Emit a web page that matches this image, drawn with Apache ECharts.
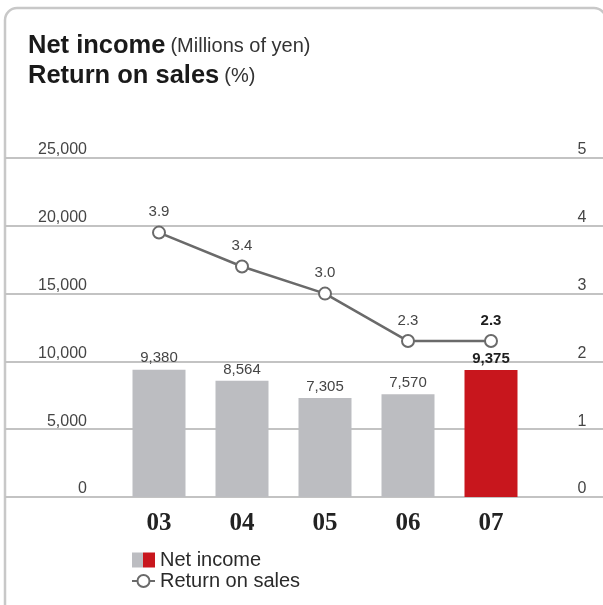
<!DOCTYPE html>
<html>
<head>
<meta charset="utf-8">
<script src="https://cdn.jsdelivr.net/npm/echarts@6/dist/echarts.min.js"></script>
<style>
  html, body { margin: 0; padding: 0; background: #fff; }
  #chart { width: 603px; height: 605px; }
</style>
</head>
<body>
<div id="chart"></div>
<script>
// Fiscal years and values
const years = ['03', '04', '05', '06', '07'];
const netIncome = [9380, 8564, 7305, 7570, 9375];      // millions of yen
const returnOnSales = [3.9, 3.4, 3.0, 2.3, 2.3];       // %
const incomeTicks = ['0', '5,000', '10,000', '15,000', '20,000', '25,000'];
const salesTicks = ['0', '1', '2', '3', '4', '5'];

const GRAY_BAR = '#bcbdc1';
const RED_BAR = '#c8161d';
const LINE_GRAY = '#6a6a6a';
const GRID_GRAY = '#c3c3c3';
const SANS = '"Liberation Sans", Arial, Helvetica, sans-serif';
const last = years.length - 1;

function withCommas(n) {
  return String(n).replace(/\B(?=(\d{3})+(?!\d))/g, ',');
}

const barData = netIncome.map((v, i) => i === last
  ? { value: v, itemStyle: { color: RED_BAR }, label: { fontWeight: 'bold', color: '#1e1e1e' } }
  : v);
const lineData = returnOnSales.map((v, i) => i === last
  ? { value: v, label: { fontWeight: 'bold', color: '#1e1e1e' } }
  : v);

const chart = echarts.init(document.getElementById('chart'), null, { renderer: 'canvas' });

chart.setOption({
  animation: false,
  textStyle: { fontFamily: SANS },
  title: {
    left: 28,
    top: 31,
    padding: 0,
    text: '{a|Net income} {b|(Millions of yen)}\n{a|Return on sales} {b|(%)}',
    textStyle: {
      rich: {
        a: { fontFamily: SANS, fontSize: 25.5, fontWeight: 'bold', color: '#1a1a1a', lineHeight: 30 },
        b: { fontFamily: SANS, fontSize: 20, fontWeight: 'normal', color: '#333', lineHeight: 30 }
      }
    }
  },
  graphic: [{
    type: 'rect',
    silent: true,
    shape: { x: 5, y: 8, width: 601, height: 640, r: 12 },
    style: { fill: 'none', stroke: '#c8c8c8', lineWidth: 2.5 }
  }],
  legend: {
    orient: 'vertical',
    left: 131,
    top: 550,
    padding: 0,
    itemWidth: 23,
    itemHeight: 15,
    itemGap: 1,
    itemTextGap: 5,
    selectedMode: false,
    textStyle: { fontFamily: SANS, fontSize: 20, color: '#2a2a2a' },
    data: [
      {
        name: 'Net income',
        icon: 'rect',
        itemStyle: {
          color: {
            type: 'linear', x: 0, y: 0, x2: 1, y2: 0,
            colorStops: [
              { offset: 0, color: GRAY_BAR }, { offset: 0.5, color: GRAY_BAR },
              { offset: 0.5, color: RED_BAR }, { offset: 1, color: RED_BAR }
            ]
          }
        }
      },
      { name: 'Return on sales' }
    ]
  },
  grid: [
    // full-width frame carrying the scale lines and tick labels
    { left: 5, right: 0, top: 158, bottom: 108 },
    // plotting area for the yearly bars and the ratio line
    { left: 117.5, right: 70.5, top: 158, bottom: 108 }
  ],
  xAxis: [
    { gridIndex: 0, type: 'value', show: false, min: 0, max: 1 },
    {
      gridIndex: 1,
      type: 'category',
      data: years,
      axisLine: { show: false },
      axisTick: { show: false },
      axisLabel: {
        margin: 14,
        fontFamily: '"Liberation Serif", "Times New Roman", serif',
        fontWeight: 'bold',
        fontSize: 25,
        color: '#222'
      }
    }
  ],
  yAxis: [
    {
      gridIndex: 0, type: 'value', position: 'left',
      min: 0, max: 25000, interval: 5000,
      axisLine: { show: false }, axisTick: { show: false },
      splitLine: { show: true, lineStyle: { color: GRID_GRAY, width: 2 } },
      axisLabel: {
        inside: true, margin: 82, align: 'right', verticalAlign: 'bottom',
        fontSize: 16, color: '#454545', lineHeight: 16,
        formatter: v => incomeTicks[Math.round(v / 5000)]
      }
    },
    {
      gridIndex: 0, type: 'value', position: 'right',
      min: 0, max: 5, interval: 1,
      axisLine: { show: false }, axisTick: { show: false },
      splitLine: { show: false },
      axisLabel: {
        inside: true, margin: 21, align: 'center', verticalAlign: 'bottom',
        fontSize: 16, color: '#454545', lineHeight: 16,
        formatter: v => salesTicks[Math.round(v)]
      }
    },
    { gridIndex: 1, type: 'value', min: 0, max: 25000, show: false },
    { gridIndex: 1, type: 'value', min: 0, max: 5, show: false }
  ],
  series: [
    {
      name: 'Net income',
      type: 'bar',
      xAxisIndex: 1,
      yAxisIndex: 2,
      barWidth: 53,
      itemStyle: { color: GRAY_BAR },
      data: barData,
      label: {
        show: true,
        position: 'top',
        distance: 4,
        fontSize: 15,
        color: '#454545',
        formatter: p => withCommas(p.value)
      }
    },
    {
      name: 'Return on sales',
      type: 'line',
      xAxisIndex: 1,
      yAxisIndex: 3,
      data: lineData,
      symbol: 'emptyCircle',
      symbolSize: 12,
      lineStyle: { color: LINE_GRAY, width: 2.5 },
      itemStyle: { color: LINE_GRAY, borderColor: LINE_GRAY, borderWidth: 2.5 },
      z: 3,
      label: {
        show: true,
        position: 'top',
        distance: 6,
        fontSize: 15,
        color: '#454545',
        formatter: p => p.value.toFixed(1)
      }
    }
  ]
});
</script>
</body>
</html>
